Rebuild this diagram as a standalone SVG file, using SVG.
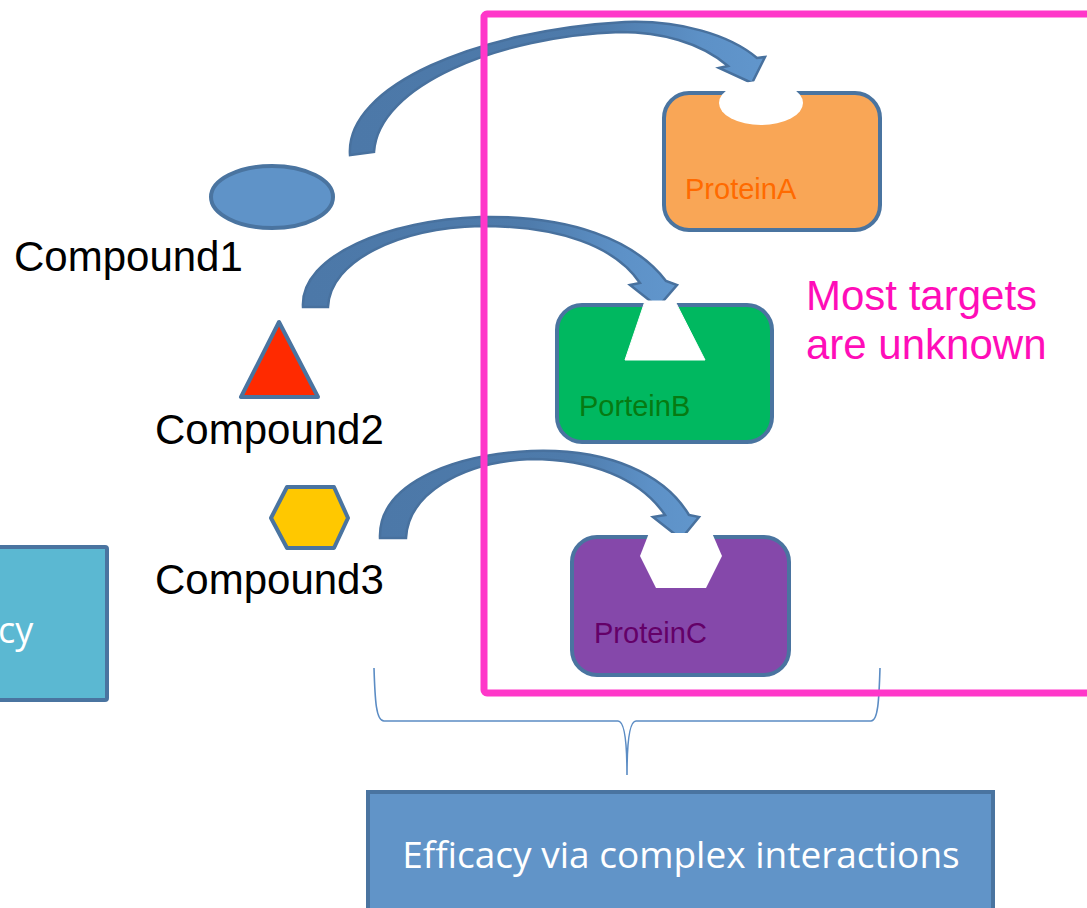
<svg xmlns="http://www.w3.org/2000/svg" width="1087" height="908" viewBox="0 0 1087 908">
<defs>
<style>
.lbl{font-family:"Liberation Sans",Arial,sans-serif;font-size:42px;fill:#000}
.plbl{font-family:"Liberation Sans",Arial,sans-serif;font-size:29px}
.box{stroke:#4A74A0;stroke-width:4}
.arrow{stroke:#48719E;stroke-width:2.5;stroke-linejoin:miter}
.notch{fill:#fff}
.wtxt{font-family:"Open Sans","Liberation Sans",sans-serif;fill:#fff}
</style>
<linearGradient id="ag" x1="0" y1="0" x2="1" y2="0">
<stop offset="0" stop-color="#4C78A8"/>
<stop offset="0.6" stop-color="#4E7BAB"/>
<stop offset="0.85" stop-color="#5D91C7"/>
<stop offset="1" stop-color="#6196CC"/>
</linearGradient>
</defs>
<rect width="1087" height="908" fill="#fff"/>

<g id="efficacy-left">
<rect class="box" x="-10" y="547" width="117" height="153" fill="#5BB8D2" rx="2"/>
<text class="wtxt" x="-2" y="643" font-size="36">cy</text>
</g>

<g id="connectors">
<path class="arrow" fill="url(#ag)" d="M 350 155 C 345 85, 480 30, 625 22 C 680 20, 730 35, 757 58 L 765 57 L 752 83 L 719 68 L 728 66 C 700 42, 660 32, 620 32 C 500 36, 378 85, 374 152 Z"/>
<path class="arrow" fill="url(#ag)" d="M 303 307 C 300 255, 390 220, 480 217 C 570 215, 635 240, 666 281 L 677 285 L 658 307 L 630 285 L 640 283 C 615 246, 560 226, 480 226 C 400 228, 330 260, 328 307 Z"/>
<path class="arrow" fill="url(#ag)" d="M 380 538 C 378 485, 450 455, 531 451 C 610 448, 665 475, 689 515 L 699 517 L 681 539 L 653 517 L 665 515 C 640 478, 590 459, 531 459 C 460 462, 408 495, 406 538 Z"/>
<path id="brace" fill="none" stroke="#5B8CC4" stroke-width="1.6" d="M 374 668 C 375 700, 376 721, 384 721 L 618 721 C 625 721, 627 745, 627 775 C 627 745, 629 721, 636 721 L 871 721 C 878 721, 879 700, 880 668"/>
</g>

<g id="compound1">
<ellipse cx="272" cy="197" rx="61" ry="31" fill="#5F93C8" stroke="#4A74A0" stroke-width="4"/>
<text class="lbl" x="14" y="271">Compound1</text>
</g>
<g id="compound2">
<polygon points="279,322 241,397 318,397" fill="#FF2A00" stroke="#4A74A0" stroke-width="4" stroke-linejoin="round"/>
<text class="lbl" x="155" y="444">Compound2</text>
</g>
<g id="compound3">
<polygon points="271,518 287,487 334,487 348,518 334,548 287,548" fill="#FFC800" stroke="#4A74A0" stroke-width="4" stroke-linejoin="round"/>
<text class="lbl" x="155" y="594">Compound3</text>
</g>

<g id="proteinA">
<rect class="box" x="664" y="93" width="216" height="137" rx="25" fill="#F9A656"/>
<ellipse class="notch" cx="761" cy="103" rx="42" ry="22"/>
<text class="plbl" x="685" y="199" fill="#FF6A00">ProteinA</text>
</g>
<g id="proteinB">
<rect class="box" x="557" y="305" width="215" height="137" rx="25" fill="#00B860"/>
<polygon class="notch" points="645,301 675,301 705,360 625,360" stroke="#fff" stroke-width="1" stroke-linejoin="round"/>
<text class="plbl" x="579" y="416" fill="#077A12">PorteinB</text>
</g>
<g id="proteinC">
<rect class="box" x="572" y="537" width="217" height="138" rx="25" fill="#8548AA"/>
<polygon class="notch" points="649,533 712,533 722,556 706,588 656,588 640,556"/>
<text class="plbl" x="594" y="643" fill="#640068">ProteinC</text>
</g>

<g id="unknown-region">
<rect x="484" y="14" width="720" height="679" rx="3" fill="none" stroke="#FF37C9" stroke-width="7"/>
<text x="806" y="310" font-family="Liberation Sans, Arial, sans-serif" font-size="42" fill="#FF0DB8">Most targets</text>
<text x="806" y="359" font-family="Liberation Sans, Arial, sans-serif" font-size="42" fill="#FF0DB8">are unknown</text>
</g>

<g id="efficacy-complex">
<rect class="box" x="368" y="792" width="625" height="130" fill="#6194C8"/>
<text class="wtxt" x="681" y="868" font-size="37" text-anchor="middle">Efficacy via complex interactions</text>
</g>
</svg>
